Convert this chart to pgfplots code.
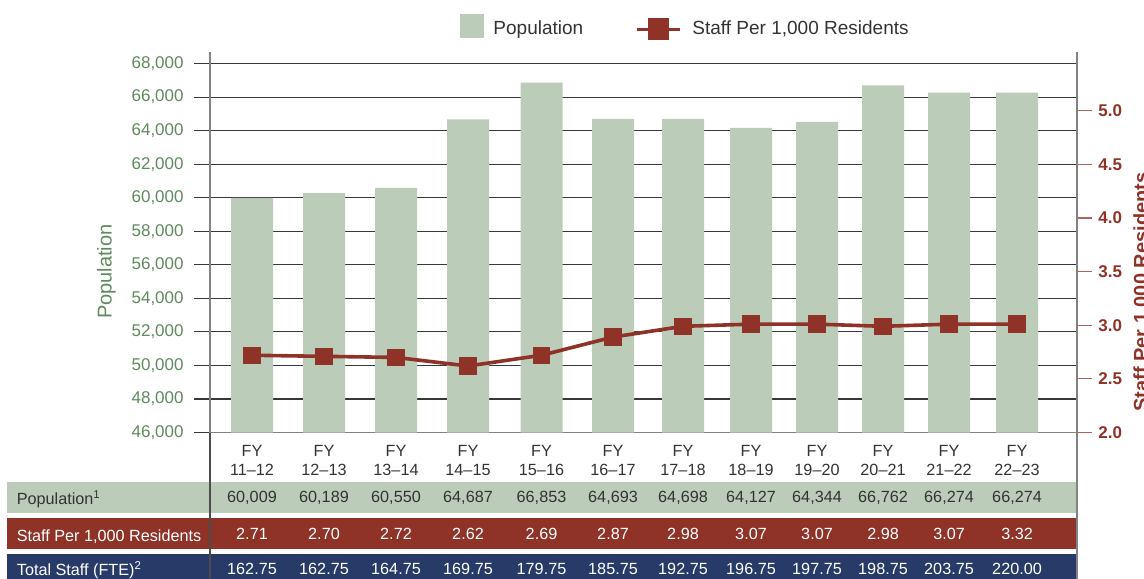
\documentclass[border=0pt]{standalone}
\usepackage{fontspec}
\setmainfont{Liberation Sans}
\usepackage{pgfplots}
\pgfplotsset{compat=1.18}
\usepackage{pgfplotstable}

\definecolor{popgreen}{RGB}{187,205,185}
\definecolor{staffred}{RGB}{143,51,40}
\definecolor{navy}{RGB}{39,58,104}
\definecolor{tickgreen}{RGB}{94,138,92}
\definecolor{txt}{RGB}{51,51,51}
\definecolor{axgray}{RGB}{130,130,130}

\pgfplotstableread{
x     pop   staff popt   stafft total
252   59990 2.72  60,009 2.71   162.75
324   60280 2.71  60,189 2.70   162.75
396   60590 2.70  60,550 2.72   164.75
468   64670 2.62  64,687 2.62   169.75
541.5 66860 2.72  66,853 2.69   179.75
613   64700 2.89  64,693 2.87   185.75
683   64700 2.99  64,698 2.98   192.75
751   64160 3.01  64,127 3.07   196.75
817   64530 3.01  64,344 3.07   197.75
883   66700 2.99  66,762 2.98   198.75
949   66270 3.01  66,274 3.07   203.75
1017  66270 3.01  66,274 3.32   220.00
}\data

\begin{document}
\begin{tikzpicture}
% table rows (pixel-based scope)
\begin{scope}[x=0.5pt,y=-0.5pt]
\fill[popgreen] (7.3,482.3) rectangle (1077,512.7);
\fill[staffred] (7.3,518.3) rectangle (1077,549);
\fill[navy] (7.3,554) rectangle (1077,600);
\node[anchor=base west, inner sep=0pt, font=\fontsize{8.1}{9.6}\selectfont, text=txt] at (16.5,504.3) {Population\textsuperscript{1}};
\node[anchor=base west, inner sep=0pt, font=\fontsize{8.1}{9.6}\selectfont, text=white] at (16.5,541) {Staff Per 1,000 Residents};
\node[anchor=base west, inner sep=0pt, font=\fontsize{8.1}{9.6}\selectfont, text=white] at (16.5,575.5) {Total Staff (FTE)\textsuperscript{2}};
\end{scope}

\begin{axis}[
  at={(105pt,-216.25pt)}, anchor=south west,
  scale only axis, width=433.5pt, height=190.25pt,
  xmin=210, xmax=1077, ymin=46000, ymax=68690,
  axis x line*=bottom, axis y line*=left,
  axis line style={axgray, line width=0.75pt},
  ytick={46000,48000,...,68000}, scaled y ticks=false,
  ymajorgrids, grid style={black!78, line width=0.6pt},
  tick align=outside, major tick length=8pt,
  ytick style={black!78, line width=0.6pt},
  xtick={252,324,396,468,541.5,613,683,751,817,883,949,1017},
  xticklabels={FY\\11–12,FY\\12–13,FY\\13–14,FY\\14–15,FY\\15–16,FY\\16–17,FY\\17–18,FY\\18–19,FY\\19–20,FY\\20–21,FY\\21–22,FY\\22–23},
  xtick style={draw=none},
  xticklabel style={align=center, font=\fontsize{8.1}{9.7}\selectfont, text=txt, inner sep=0pt, yshift=2pt},
  yticklabel style={font=\fontsize{8.5}{10}\selectfont, text=tickgreen, inner sep=0pt, xshift=-5pt},
  /pgf/number format/fixed, /pgf/number format/1000 sep={,},
  /pgf/number format/assume math mode=true,
  ylabel={Population},
  ylabel style={at={(axis description cs:-0.1307,0.4226)}, anchor=north, inner sep=0pt, font=\fontsize{10}{12}\selectfont, text=tickgreen},
  legend style={at={(axis description cs:0.2884,1.100)}, anchor=north west, draw=none, fill=none,
    font=\fontsize{9.5}{11}\selectfont, text=txt, inner sep=0pt, nodes={inner sep=0pt},
    /tikz/every odd column/.append style={column sep=4.5pt},
    /tikz/every even column/.append style={column sep=26pt}},
  legend columns=2, legend cell align=left,
]
\addplot[ybar, bar width=42, fill=popgreen, draw=none,
  legend image code/.code={\fill[popgreen] (0pt,-4.5pt) rectangle (12pt,7.5pt);}]
  table[x=x, y=pop] {\data};
\addlegendentry{Population}
\addlegendimage{legend image code/.code={\draw[staffred, line width=1.8pt] (0pt,0pt) -- (21.5pt,0pt); \fill[staffred] (5.75pt,-5.25pt) rectangle (15.75pt,5.25pt); \path (23pt,0pt);}}
\addlegendentry{Staff Per 1,000 Residents}
\end{axis}

\begin{axis}[
  at={(105pt,-216.25pt)}, anchor=south west,
  scale only axis, width=433.5pt, height=190.25pt,
  xmin=210, xmax=1077, ymin=2, ymax=5.547,
  axis x line=none, axis y line*=right,
  axis line style={axgray, line width=0.75pt},
  ytick={2,2.5,3,3.5,4,4.5,5},
  tick align=outside, major tick length=7.5pt,
  ytick style={staffred!75, line width=0.6pt},
  yticklabel style={font=\bfseries\fontsize{8.5}{10}\selectfont, text=staffred, inner sep=0pt, xshift=3pt},
  /pgf/number format/fixed, /pgf/number format/fixed zerofill, /pgf/number format/precision=1,
  /pgf/number format/assume math mode=true,
  ylabel={Staff Per 1,000 Residents},
  ylabel style={at={(axis description cs:1.0646,0.369)}, anchor=north, inner sep=0pt, font=\bfseries\fontsize{10}{12}\selectfont, text=staffred},
  clip=false,
]
\addplot[staffred, line width=1.8pt, mark=square*, mark size=4.1pt, mark options={solid, line width=0pt}]
  table[x=x, y=staff] {\data};
\addplot[draw=none, mark=none, nodes near coords={\smash{\pgfplotspointmeta}}, point meta=explicit symbolic,
  nodes near coords style={inner sep=0pt, font=\fontsize{8.1}{9.6}\selectfont, text=txt}]
  table[x=x, y expr=1.3307, meta=popt] {\data};
\addplot[draw=none, mark=none, nodes near coords={\smash{\pgfplotspointmeta}}, point meta=explicit symbolic,
  nodes near coords style={inner sep=0pt, font=\fontsize{8.1}{9.6}\selectfont, text=white}]
  table[x=x, y expr=0.9885, meta=stafft] {\data};
\addplot[draw=none, mark=none, nodes near coords={\smash{\pgfplotspointmeta}}, point meta=explicit symbolic,
  nodes near coords style={inner sep=0pt, font=\fontsize{8.1}{9.6}\selectfont, text=white}]
  table[x=x, y expr=0.6669, meta=total] {\data};
\end{axis}

\begin{scope}[x=0.5pt,y=-0.5pt]
\draw[black!70, line width=0.75pt] (210,432.5) -- (210,600);
\draw[axgray, line width=0.75pt] (1077,432.5) -- (1077,600);
\pgfresetboundingbox
\path[use as bounding box] (0,0) rectangle (1144,578);
\end{scope}
\end{tikzpicture}
\end{document}
